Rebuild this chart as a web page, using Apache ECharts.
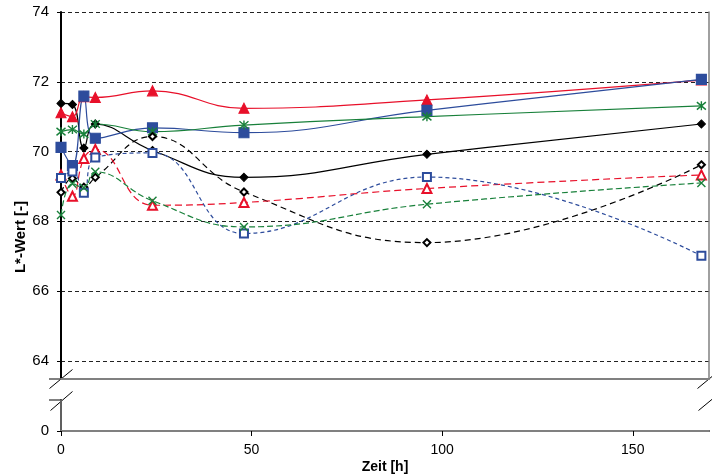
<!DOCTYPE html>
<html>
<head>
<meta charset="utf-8">
<script src="https://cdn.jsdelivr.net/npm/echarts@6/dist/echarts.min.js"></script>
<style>
html, body { margin: 0; padding: 0; background: #fff; }
#main { width: 712px; height: 475px; }
</style>
</head>
<body>
<div id="main"></div>
<script>
// Messzeitpunkte [h]
var hours = [0, 3, 6, 9, 24, 48, 96, 168];

// L*-Werte, durchgezogene Linien
var blackSolid = [71.38, 71.35, 70.1, 70.79, 70.03, 69.26, 69.92, 70.79];
var redSolid = [71.11, 71.0, 71.57, 71.55, 71.74, 71.24, 71.48, 72.05];
var blueSolid = [70.12, 69.6, 71.59, 70.38, 70.68, 70.54, 71.18, 72.07];
var greenSolid = [70.57, 70.63, 70.5, 70.79, 70.57, 70.76, 71.0, 71.31];

// L*-Werte, gestrichelte Linien
var blackDashed = [68.83, 69.23, 68.98, 69.26, 70.43, 68.84, 67.39, 69.62];
var redDashed = [69.33, 68.72, 69.8, 70.06, 68.46, 68.54, 68.94, 69.33];
var blueDashed = [69.24, 69.43, 68.82, 69.83, 69.96, 67.65, 69.27, 67.01];
var greenDashed = [68.18, 69.08, 68.96, 69.42, 68.59, 67.84, 68.49, 69.1];

var xTicks = [0, 50, 100, 150];

var BLACK = '#000000', RED = '#e8102a', BLUE = '#2d4c9c', GREEN = '#18803a';
var ASTERISK = 'path://M0,0L10,10M10,0L0,10M5,-1L5,11';
var CROSS = 'path://M0,0L10,10M10,0L0,10';

var font = 'Liberation Sans, Arial, sans-serif';

function pairs(values) {
    return hours.map(function (h, i) { return [h, values[i]]; });
}

function makeSeries(name, values, color, symbol, size, dash, lineSymbol) {
    return {
        name: name,
        type: 'line',
        xAxisIndex: 0,
        yAxisIndex: 0,
        smooth: 0.45,
        data: pairs(values),
        symbol: symbol,
        symbolSize: size,
        showSymbol: true,
        lineStyle: { color: color, width: 1.2, type: dash || 'solid' },
        itemStyle: {
            color: lineSymbol ? color : color,
            borderColor: color,
            borderWidth: lineSymbol ? 1.4 : 1.1
        },
        z: 3
    };
}

var chart = echarts.init(document.getElementById('main'));

chart.setOption({
    animation: false,
    backgroundColor: '#fff',
    textStyle: { fontFamily: font },
    grid: [
        { left: 61, right: 3, top: 12, bottom: 96 },
        { left: 61, right: 3, top: 400, bottom: 44 }
    ],
    xAxis: [
        {
            gridIndex: 0, type: 'value', min: 0, max: 170,
            axisLine: { lineStyle: { color: '#808080', width: 2 } },
            axisTick: { show: false }, axisLabel: { show: false }, splitLine: { show: false }
        },
        {
            gridIndex: 1, type: 'value', min: 0, max: 170, interval: 50,
            axisLine: { lineStyle: { color: '#000', width: 2 } },
            axisTick: { length: 5, customValues: xTicks, lineStyle: { color: '#000' } },
            axisLabel: { customValues: xTicks, color: '#000', fontSize: 14, margin: 12, fontFamily: font },
            splitLine: { show: false },
            name: 'Zeit [h]', nameLocation: 'middle', nameGap: 29,
            nameTextStyle: { color: '#000', fontWeight: 'bold', fontSize: 14, fontFamily: font }
        },
        {
            gridIndex: 1, type: 'value', min: 0, max: 170, position: 'top',
            axisLine: { lineStyle: { color: '#808080', width: 2 } },
            axisTick: { show: false }, axisLabel: { show: false }, splitLine: { show: false }
        }
    ],
    yAxis: [
        {
            gridIndex: 0, type: 'value', min: 63.48, max: 74,
            axisLine: { show: true, lineStyle: { color: '#000', width: 2 } },
            axisTick: { show: true, length: 4, lineStyle: { color: '#000' } },
            axisLabel: { color: '#000', fontSize: 15, margin: 12, showMinLabel: false, fontFamily: font },
            splitLine: { show: true, showMinLine: false, lineStyle: { color: '#222', width: 1, type: [4, 3] } }
        },
        {
            gridIndex: 0, type: 'value', min: 63.48, max: 74, position: 'right',
            axisLine: { show: true, lineStyle: { color: '#808080', width: 1.5 } },
            axisTick: { show: false }, axisLabel: { show: false }, splitLine: { show: false }
        },
        {
            gridIndex: 1, type: 'value', min: 0, max: 1, interval: 1,
            axisLine: { show: true, lineStyle: { color: '#000', width: 2 } },
            axisTick: { show: true, length: 4, customValues: [0], lineStyle: { color: '#000' } },
            axisLabel: { color: '#000', fontSize: 15, margin: 12, customValues: [0], fontFamily: font },
            splitLine: { show: false }
        },
        {
            gridIndex: 1, type: 'value', min: 0, max: 1, position: 'right',
            axisLine: { show: true, lineStyle: { color: '#808080', width: 1.5 } },
            axisTick: { show: false }, axisLabel: { show: false }, splitLine: { show: false }
        }
    ],
    graphic: [
        {
            type: 'text', left: 12, top: 237, rotation: Math.PI / 2,
            style: {
                text: 'L*-Wert [-]', fill: '#000', font: 'bold 15px ' + font,
                align: 'center', verticalAlign: 'middle'
            },
            x: 21, y: 237, left: null, top: null
        },
        // Achsenbruch
        { type: 'line', shape: { x1: 49, y1: 379, x2: 61, y2: 379 }, style: { stroke: '#808080', lineWidth: 2 } },
        { type: 'line', shape: { x1: 49, y1: 400, x2: 61, y2: 400 }, style: { stroke: '#808080', lineWidth: 2 } },
        { type: 'line', shape: { x1: 49.5, y1: 388.5, x2: 72.5, y2: 369.5 }, style: { stroke: '#000', lineWidth: 1 } },
        { type: 'line', shape: { x1: 50.5, y1: 410.5, x2: 72.5, y2: 391.5 }, style: { stroke: '#000', lineWidth: 1 } },
        { type: 'line', shape: { x1: 697.5, y1: 388.5, x2: 720.5, y2: 369.5 }, style: { stroke: '#000', lineWidth: 1 } },
        { type: 'line', shape: { x1: 698.5, y1: 410.5, x2: 721.5, y2: 391.5 }, style: { stroke: '#000', lineWidth: 1 } }
    ],
    series: [
        makeSeries('S1', blackSolid, BLACK, 'diamond', 8),
        makeSeries('S2', redSolid, RED, 'triangle', 10),
        makeSeries('S3', blueSolid, BLUE, 'rect', 10),
        makeSeries('S4', greenSolid, GREEN, ASTERISK, 9, null, true),
        makeSeries('S5', blackDashed, BLACK, 'emptyDiamond', 7, [6, 4]),
        makeSeries('S6', redDashed, RED, 'emptyTriangle', 9, [7, 4]),
        makeSeries('S7', blueDashed, BLUE, 'emptyRect', 8, [4, 3]),
        makeSeries('S8', greenDashed, GREEN, CROSS, 8, [6, 3], true)
    ]
});
</script>
</body>
</html>
